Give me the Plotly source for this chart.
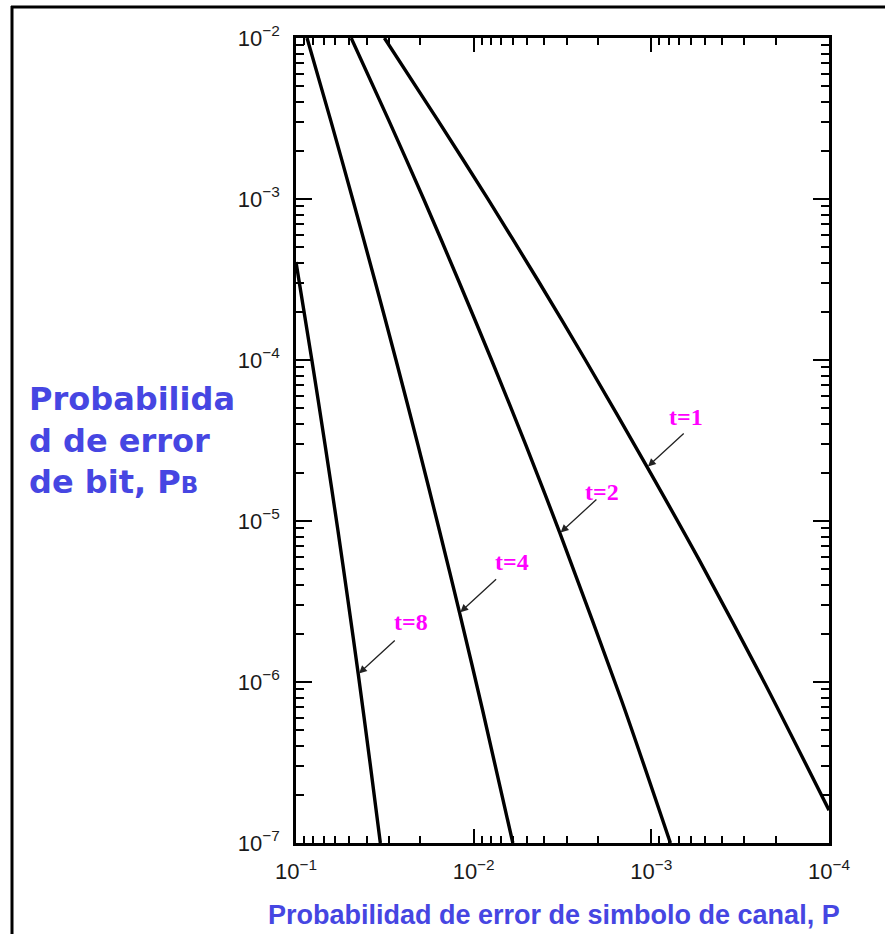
import numpy as np
import plotly.graph_objects as go

# Channel symbol error probability P and bit error probability PB, per t-error-correcting code
P_T1 = [3.18e-2, 1.596e-2, 8.27e-3, 4.36e-3, 2.35e-3, 1.055e-3, 5.38e-4, 2.35e-4, 1.0e-4]
PB_T1 = [1.0e-2, 3.1e-3, 9.9e-4, 3.14e-4, 1.0e-4, 2.16e-5, 5.73e-6, 1.03e-6, 1.6e-7]

P_T2 = [4.891e-2, 3.013e-2, 1.904e-2, 1.221e-2, 7.93e-3, 5.09e-3, 3.27e-3, 1.474e-3, 7.81e-4]
PB_T2 = [1.0e-2, 3.1e-3, 9.9e-4, 3.14e-4, 1.0e-4, 2.97e-5, 8.41e-6, 7.73e-7, 1.0e-7]

P_T4 = [8.667e-2, 6.39e-2, 4.788e-2, 3.606e-2, 2.737e-2, 2.059e-2, 1.561e-2, 1.20e-2, 8.91e-3, 6.02e-3]
PB_T4 = [1.0e-2, 3.1e-3, 9.9e-4, 3.14e-4, 1.0e-4, 2.97e-5, 8.79e-6, 2.69e-6, 6.7e-7, 1.0e-7]

P_T8 = [1.0e-1, 8.143e-2, 6.859e-2, 5.812e-2, 5.103e-2, 4.463e-2, 3.849e-2, 3.352e-2]
PB_T8 = [4.06e-4, 1.0e-4, 2.97e-5, 8.79e-6, 3.23e-6, 1.12e-6, 3.28e-7, 1.0e-7]

LABELS = ["t=1", "t=2", "t=4", "t=8"]
ARROW_AT = [5, 6, 7, 5]          # index of the point each label's arrow points to
LABEL_OFFSET = [(39, 50), (42, 41), (52, 51), (53, 52)]  # label offset from arrow tip (px, right/up)

X_TICKS = [1e-1, 1e-2, 1e-3, 1e-4]
X_TICKTEXT = ["10<sup>−1</sup>", "10<sup>−2</sup>", "10<sup>−3</sup>", "10<sup>−4</sup>"]
Y_TICKS = [1e-2, 1e-3, 1e-4, 1e-5, 1e-6, 1e-7]
Y_TICKTEXT = ["10<sup>−2</sup>", "10<sup>−3</sup>", "10<sup>−4</sup>",
              "10<sup>−5</sup>", "10<sup>−6</sup>", "10<sup>−7</sup>"]

W, H = 885, 934
ML, MR, MT, MB = 296, 56, 38, 91
PW, PH = W - ML - MR, H - MT - MB


def px_x(x):
    return (x - ML) / PW


def px_y(y):
    return 1 - (y - MT) / PH


BLUE = "#4646e2"
MAGENTA = "#ff00ff"

fig = go.Figure()

series = [(P_T1, PB_T1), (P_T2, PB_T2), (P_T4, PB_T4), (P_T8, PB_T8)]
for (p, pb), name, k, (dx, dy) in zip(series, LABELS, ARROW_AT, LABEL_OFFSET):
    fig.add_trace(go.Scatter(
        x=p, y=pb, mode="lines", name=name, showlegend=False, hoverinfo="skip",
        line=dict(color="black", width=3.4, shape="spline", smoothing=0.8),
    ))
    tx, ty = np.log10(p[k]), np.log10(pb[k])
    fig.add_annotation(
        x=tx, y=ty, xref="x", yref="y", text="", showarrow=True,
        ax=38, ay=-35, axref="pixel", ayref="pixel",
        arrowhead=2, arrowsize=1.2, arrowwidth=1.3, arrowcolor="#222222", standoff=1,
    )
    fig.add_annotation(
        x=tx, y=ty, xref="x", yref="y", text=name, showarrow=False,
        xshift=dx, yshift=dy, xanchor="center", yanchor="middle",
        font=dict(family="Liberation Serif", size=24, color=MAGENTA, weight="bold"),
    )

axis_common = dict(
    type="log", showgrid=False, zeroline=False,
    showline=True, linecolor="black", linewidth=2.6, mirror="allticks",
    ticks="inside", tickcolor="black", tickwidth=2,
    tickfont=dict(family="Liberation Sans", size=22, color="#1a1a1a"),
)

fig.update_xaxes(
    **axis_common, range=[-1, -4], tickvals=X_TICKS, ticktext=X_TICKTEXT,
    ticklen=14, ticklabelstandoff=7,
    minor=dict(ticks="inside", ticklen=7, tickwidth=1.5, tickcolor="black", dtick="D1", showgrid=False),
)
fig.update_yaxes(
    **axis_common, range=[-7, -2], tickvals=Y_TICKS, ticktext=Y_TICKTEXT,
    ticklen=16, ticklabelstandoff=9,
    minor=dict(ticks="inside", ticklen=8, tickwidth=1.5, tickcolor="black", dtick="D1", showgrid=False),
)

# Axis titles
fig.add_annotation(
    xref="paper", yref="paper", x=px_x(27), y=px_y(440), xanchor="left", yanchor="middle",
    align="left", showarrow=False,
    text="Probabilida<br>d de error<br>de bit, P<span style='font-size:23px'>B</span>",
    font=dict(family="DejaVu Sans", size=32, color=BLUE, weight="bold"),
)
fig.add_annotation(
    xref="paper", yref="paper", x=px_x(554), y=px_y(915), xanchor="center", yanchor="middle",
    showarrow=False, text="Probabilidad de error de simbolo de canal, P",
    font=dict(family="Liberation Sans", size=27, color=BLUE, weight="bold"),
)

# Outer frame (top and left edges)
fig.add_shape(type="line", xref="paper", yref="paper",
              x0=px_x(11), x1=px_x(W + 5), y0=px_y(7), y1=px_y(7),
              line=dict(color="black", width=3))
fig.add_shape(type="line", xref="paper", yref="paper",
              x0=px_x(12), x1=px_x(12), y0=px_y(6), y1=px_y(H + 5),
              line=dict(color="black", width=3))

fig.update_layout(
    width=W, height=H,
    margin=dict(l=ML, r=MR, t=MT, b=MB),
    paper_bgcolor="white", plot_bgcolor="white",
    showlegend=False,
)

fig.write_html("out.html")
